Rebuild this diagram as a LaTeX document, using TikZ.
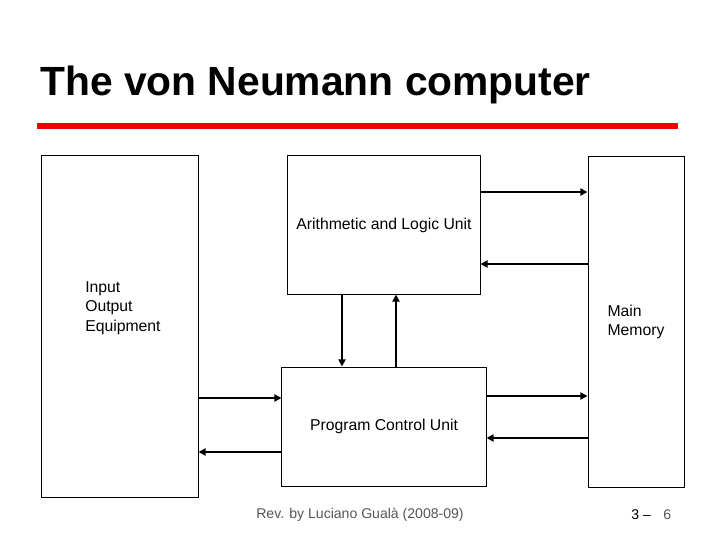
\documentclass[tikz,border=0pt]{standalone}
\usepackage{fontspec}
\setmainfont{Liberation Sans}
\usetikzlibrary{arrows.meta}
\definecolor{slidered}{RGB}{240,0,0}
\definecolor{footgray}{RGB}{85,85,85}

\begin{document}
\begin{tikzpicture}[x=0.025cm, y=-0.025cm,
	unit/.style={draw, line width=0.7pt, inner sep=0pt},
	flow/.style={line width=2pt, -{Triangle[length=5pt, width=5pt]}},
	every node/.style={font=\fontsize{11.2}{13.8}\selectfont}]
					\useasboundingbox (0,0) rectangle (720,540);
					% title
					\node[anchor=base west, inner sep=0pt, font=\fontsize{29}{32}\selectfont\bfseries] (title) at (40,95) {The von Neumann computer};
					\draw[slidered, line width=4.3pt] (37,126) -- (678,126);
					% units
					\node[unit, minimum width=3.9cm, minimum height=8.525cm] (io) at (120,326.5) {};
					\node[unit, minimum width=4.8cm, minimum height=3.45cm] (alu) at (384,225) {Arithmetic and Logic Unit};
					\node[unit, minimum width=2.4cm, minimum height=8.25cm, align=left] (mem) at (636,322) {Main\\Memory};
					\node[unit, minimum width=5.1cm, minimum height=2.975cm] (pcu) at (384,426.5) {Program Control Unit};
					\node[anchor=west, align=left, inner sep=0pt] (iotext) at (85,308) {Input\\Output\\Equipment};
					% connections
					\draw[flow] (alu.east |- 0,192) -- (mem.west |- 0,192);
					\draw[flow] (mem.west |- 0,264) -- (alu.east |- 0,264);
					\draw[flow] (alu.south -| 342,0) -- (pcu.north -| 342,0);
					\draw[flow] (pcu.north -| 396,0) -- (alu.south -| 396,0);
					\draw[flow] (io.east |- 0,398) -- (pcu.west |- 0,398);
					\draw[flow] (pcu.west |- 0,452) -- (io.east |- 0,452);
					\draw[flow] (pcu.east |- 0,396) -- (mem.west |- 0,396);
					\draw[flow] (mem.west |- 0,438) -- (pcu.east |- 0,438);
					% footer
					\node[text=footgray, font=\fontsize{10}{12}\selectfont] (rev) at (360,515) {Rev. by Luciano Gualà (2008-09)};
					\node[anchor=west, font=\fontsize{10}{12}\selectfont, inner sep=0pt] (page) at (631,515) {3 –};
					\node[anchor=west, text=footgray, font=\fontsize{10}{12}\selectfont, inner sep=0pt] (slide) at (663,515) {6};
				\end{tikzpicture}
\end{document}
